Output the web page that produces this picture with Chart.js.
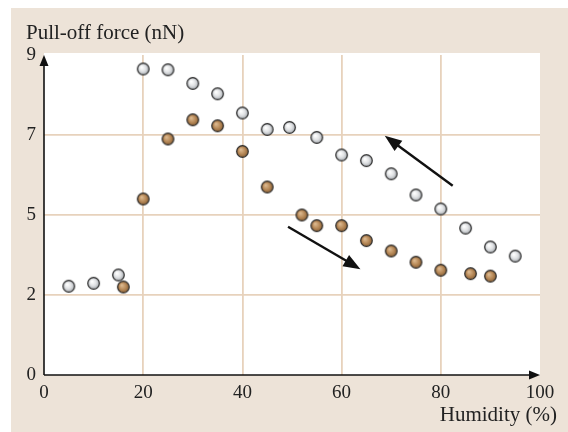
<!DOCTYPE html>
<html><head><meta charset="utf-8">
<script src="https://cdn.jsdelivr.net/npm/chart.js@4"></script>
<style>html,body{margin:0;padding:0;background:#fff}canvas{display:block}</style>
</head><body>
<div style="width:568px;height:432px"><canvas id="c"></canvas></div>
<script>
// Y tick positions are evenly spaced in the original chart, labelled 0,2,5,7,9 (nN)
const yTickValues = [0, 2, 5, 7, 9];
const yTickLabels = ['0', '2', '5', '7', '9'];
const xTickLabels = [0, 20, 40, 60, 80, 100];

// Grey spheres (upper branch)
const greyHumidity = [5, 10, 15, 20, 25, 30, 35, 40, 45, 49.5, 55, 60, 65, 70, 75, 80, 85, 90, 95];
const greyForce    = [2.33, 2.44, 2.75, 8.65, 8.63, 8.29, 8.03, 7.55, 7.14, 7.19, 6.94, 6.5, 6.36, 6.03, 5.5, 5.15, 4.51, 3.8, 3.46];
// Brown spheres (lower branch)
const brownHumidity = [16, 20, 25, 30, 35, 40, 45, 52, 55, 60, 65, 70, 75, 80, 86, 90];
const brownForce    = [2.3, 5.4, 6.9, 7.38, 7.23, 6.59, 5.7, 5.0, 4.6, 4.6, 4.04, 3.65, 3.23, 2.93, 2.8, 2.71];

// Direction arrows (humidity, force)
const arrowUpperFrom = [82.4, 5.73], arrowUpperTo = [68.7, 6.98];
const arrowLowerFrom = [49.2, 4.56], arrowLowerTo = [63.8, 2.97];

function toAxis(v) {
  for (let i = 1; i < yTickValues.length; i++) {
    if (v <= yTickValues[i]) {
      const a = yTickValues[i - 1], b = yTickValues[i];
      return (i - 1) + (v - a) / (b - a);
    }
  }
  return yTickValues.length - 1;
}

function sphere(light, mid, dark) {
  const s = 15, c = document.createElement('canvas');
  c.width = s; c.height = s;
  const g = c.getContext('2d');
  const r = 5.8;
  const grad = g.createRadialGradient(5.8, 5.6, 0.5, 7.5, 7.5, r);
  grad.addColorStop(0, light);
  grad.addColorStop(0.55, mid);
  grad.addColorStop(1, dark);
  g.beginPath(); g.arc(7.5, 7.5, r, 0, Math.PI * 2);
  g.fillStyle = grad; g.fill();
  g.lineWidth = 1.2; g.strokeStyle = '#2a2a2a'; g.stroke();
  return c;
}
const greyBall = sphere('#ffffff', '#e0e2e4', '#a8acb1');
const brownBall = sphere('#dcb990', '#b98b5a', '#8c6236');

const serif = "'Liberation Serif', 'DejaVu Serif', serif";
const BEIGE = '#ede3d8', GRID = '#e7d2bc';

const bgPlugin = {
  id: 'bg',
  beforeDraw(chart) {
    const { ctx, chartArea: a } = chart;
    ctx.save();
    ctx.fillStyle = '#ffffff'; ctx.fillRect(0, 0, chart.width, chart.height);
    ctx.fillStyle = BEIGE; ctx.fillRect(11, 8, chart.width - 11, chart.height - 8);
    ctx.fillStyle = '#ffffff'; ctx.fillRect(a.left, a.top - 2, a.right - a.left, a.bottom - a.top + 2);
    ctx.restore();
  }
};

function arrowHead(ctx, x1, y1, x2, y2, len, wid) {
  const ang = Math.atan2(y2 - y1, x2 - x1);
  ctx.beginPath();
  ctx.moveTo(x2, y2);
  ctx.lineTo(x2 - len * Math.cos(ang) + wid / 2 * Math.sin(ang), y2 - len * Math.sin(ang) - wid / 2 * Math.cos(ang));
  ctx.lineTo(x2 - len * Math.cos(ang) - wid / 2 * Math.sin(ang), y2 - len * Math.sin(ang) + wid / 2 * Math.cos(ang));
  ctx.closePath(); ctx.fill();
}

const decoPlugin = {
  id: 'deco',
  afterDatasetsDraw(chart) {
    const { ctx, chartArea: a, scales } = chart;
    const xs = scales.x, ys = scales.y;
    ctx.save();
    ctx.strokeStyle = '#111'; ctx.fillStyle = '#111';
    // axes
    ctx.lineWidth = 1.6;
    ctx.beginPath(); ctx.moveTo(a.left, a.bottom); ctx.lineTo(a.right - 6, a.bottom); ctx.stroke();
    arrowHead(ctx, a.left, a.bottom, a.right, a.bottom, 11, 9);
    ctx.beginPath(); ctx.moveTo(a.left, a.bottom); ctx.lineTo(a.left, a.top + 6); ctx.stroke();
    arrowHead(ctx, a.left, a.bottom, a.left, a.top, 11, 9);
    // direction arrows
    ctx.lineWidth = 2.4;
    [[arrowUpperFrom, arrowUpperTo], [arrowLowerFrom, arrowLowerTo]].forEach(([f, t]) => {
      const x1 = xs.getPixelForValue(f[0]), y1 = ys.getPixelForValue(toAxis(f[1]));
      const x2 = xs.getPixelForValue(t[0]), y2 = ys.getPixelForValue(toAxis(t[1]));
      const ang = Math.atan2(y2 - y1, x2 - x1);
      ctx.beginPath(); ctx.moveTo(x1, y1);
      ctx.lineTo(x2 - 10 * Math.cos(ang), y2 - 10 * Math.sin(ang)); ctx.stroke();
      arrowHead(ctx, x1, y1, x2, y2, 17, 13);
    });
    // axis titles
    ctx.fillStyle = '#222';
    ctx.font = '21px ' + serif;
    ctx.textAlign = 'left'; ctx.textBaseline = 'alphabetic';
    ctx.fillText('Pull-off force (nN)', 26, 39);
    ctx.textAlign = 'right';
    ctx.fillText('Humidity (%)', 557, 421);
    ctx.restore();
  }
};

new Chart(document.getElementById('c'), {
  type: 'scatter',
  data: {
    datasets: [
      {
        label: 'Increasing humidity',
        data: brownHumidity.map((h, i) => ({ x: h, y: toAxis(brownForce[i]) })),
        pointStyle: brownBall, pointRadius: 7, pointHoverRadius: 7
      },
      {
        label: 'Decreasing humidity',
        data: greyHumidity.map((h, i) => ({ x: h, y: toAxis(greyForce[i]) })),
        pointStyle: greyBall, pointRadius: 7, pointHoverRadius: 7
      }
    ]
  },
  options: {
    responsive: true, maintainAspectRatio: false, animation: false,
    layout: { padding: { top: 55, right: 28, left: 0, bottom: 0 } },
    plugins: { legend: { display: false }, tooltip: { enabled: false } },
    scales: {
      x: {
        type: 'linear', min: 0, max: 100,
        afterBuildTicks(s) { s.ticks = xTickLabels.map(v => ({ value: v })); },
        afterFit(s) { s.height = 57; },
        ticks: { font: { family: serif, size: 19 }, color: '#222', padding: 7, maxRotation: 0 },
        grid: { drawTicks: false, lineWidth: 1.8, color: c => (c.tick && c.tick.value > 0 && c.tick.value < 100) ? GRID : 'rgba(0,0,0,0)' },
        border: { display: false }
      },
      y: {
        type: 'linear', min: 0, max: 4,
        afterBuildTicks(s) { s.ticks = yTickLabels.map((_, i) => ({ value: i })); },
        afterFit(s) { s.width = 44; },
        ticks: { font: { family: serif, size: 19 }, color: '#222', padding: 8, callback: v => yTickLabels[v] },
        grid: { drawTicks: false, lineWidth: 1.8, color: c => (c.tick && c.tick.value > 0 && c.tick.value < 4) ? GRID : 'rgba(0,0,0,0)' },
        border: { display: false }
      }
    }
  },
  plugins: [bgPlugin, decoPlugin]
});
</script>
</body></html>
